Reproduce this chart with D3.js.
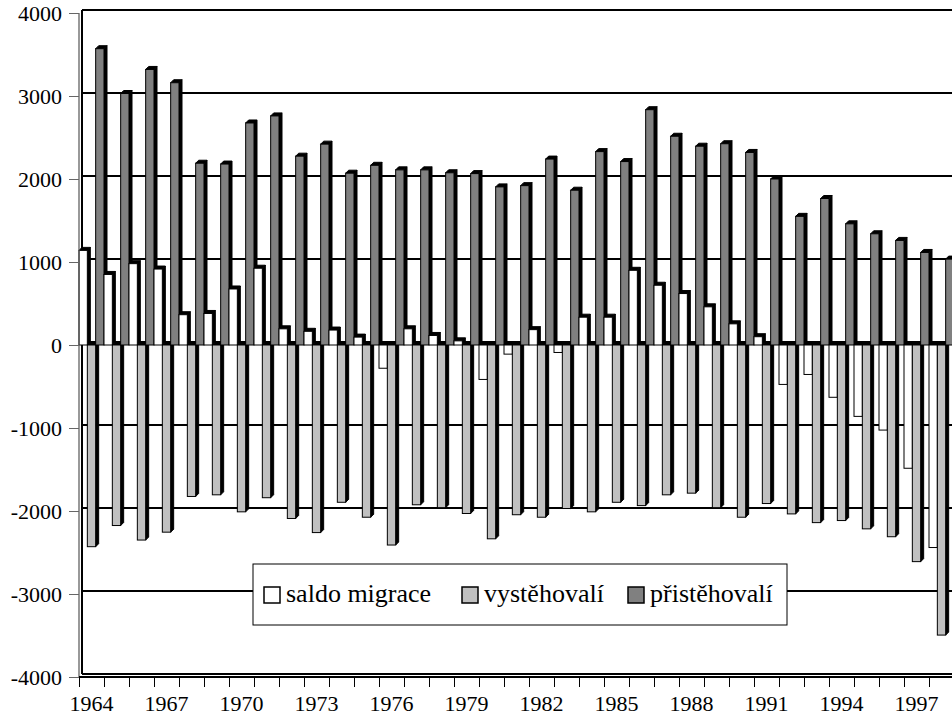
<!DOCTYPE html>
<html>
<head>
<meta charset="utf-8">
<script src="https://cdn.jsdelivr.net/npm/d3@7"></script>
<style>
  body { margin: 0; background: #fff; }
  svg { display: block; font-family: "Liberation Serif", "DejaVu Serif", serif; }
</style>
</head>
<body>
<div id="chart"></div>
<script>
const years = d3.range(1964, 1999).map(String);
const yTicks = [-4000, -3000, -2000, -1000, 0, 1000, 2000, 3000, 4000];
const labelYears = ["1964", "1967", "1970", "1973", "1976", "1979", "1982", "1985", "1988", "1991", "1994", "1997"];
const seriesNames = ["saldo migrace", "vystěhovalí", "přistěhovalí"];
const seriesColors = ["#ffffff", "#c0c0c0", "#808080"];

const saldo = [1140, 850, 980, 915, 365, 380, 675, 925, 195, 165,
  180, 95, -280, 195, 115, 50, -415, -110, 185, -90,
  335, 335, 900, 720, 620, 460, 255, 100, -475, -355,
  -630, -860, -1025, -1485, -2440];
const vystehovali = [-2430, -2175, -2350, -2255, -1825, -1805, -2010, -1840, -2090, -2260,
  -1895, -2075, -2410, -1925, -1960, -2030, -2335, -2045, -2075, -1970,
  -2010, -1895, -1935, -1805, -1785, -1960, -2075, -1910, -2035, -2140,
  -2115, -2215, -2310, -2610, -3495];
const pristehovali = [3570, 3030, 3320, 3160, 2190, 2180, 2675, 2760, 2275, 2420,
  2070, 2165, 2110, 2110, 2075, 2065, 1905, 1920, 2240, 1865,
  2330, 2210, 2835, 2515, 2395, 2425, 2320, 2000, 1550, 1765,
  1460, 1340, 1260, 1115, 1035];

(function () {
  const W = 952, H = 718;
  const plotLeft = 79, plotTop = 13, plotBottom = 677;
  const depth = 3;
  const catW = 25;

  const svg = d3.select("#chart").append("svg")
    .attr("width", W).attr("height", H);

  const x = d3.scaleBand().domain(years).range([plotLeft, plotLeft + years.length * catW]).padding(0);
  const xSub = d3.scaleBand().domain(seriesNames).range([0, x.bandwidth()]).padding(0);
  const xEdge = d3.scaleLinear().domain([0, years.length]).range([plotLeft, plotLeft + years.length * catW]);
  const y = d3.scaleLinear().domain([-4000, 4000]).range([plotBottom, plotTop]);
  const color = d3.scaleOrdinal().domain(seriesNames).range(seriesColors);

  // back wall gridlines
  svg.append("g")
    .selectAll("line")
    .data(yTicks)
    .join("line")
    .attr("x1", plotLeft + depth).attr("x2", W + 5)
    .attr("y1", d => y(d) - depth).attr("y2", d => y(d) - depth)
    .attr("stroke", "#000").attr("stroke-width", 2);

  // back wall left edge
  svg.append("line")
    .attr("x1", plotLeft + depth).attr("x2", plotLeft + depth)
    .attr("y1", y(4000) - depth).attr("y2", y(-4000) - depth)
    .attr("stroke", "#000").attr("stroke-width", 2);

  // bars
  const rows = [];
  years.forEach((yr, i) => {
    rows.push({ year: yr, series: seriesNames[0], value: saldo[i] });
    rows.push({ year: yr, series: seriesNames[1], value: vystehovali[i] });
    rows.push({ year: yr, series: seriesNames[2], value: pristehovali[i] });
  });

  const bw = xSub.bandwidth();
  svg.append("g").selectAll("g")
    .data(rows)
    .join("g")
    .each(function (d) {
      const g = d3.select(this);
      const x0 = x(d.year) + xSub(d.series);
      const x1 = x0 + bw;
      const yT = Math.min(y(d.value), y(0));
      const yB = Math.max(y(d.value), y(0));
      // side face
      g.append("path")
        .attr("d", `M${x1},${yT}L${x1 + depth},${yT - depth}L${x1 + depth},${yB - depth}L${x1},${yB}Z`)
        .attr("fill", "#000").attr("stroke", "#000").attr("stroke-width", 1);
      // top face
      g.append("path")
        .attr("d", `M${x0},${yT}L${x0 + depth},${yT - depth}L${x1 + depth},${yT - depth}L${x1},${yT}Z`)
        .attr("fill", "#000").attr("stroke", "#000").attr("stroke-width", 1);
      // front face
      g.append("rect")
        .attr("x", x0).attr("y", yT)
        .attr("width", bw).attr("height", yB - yT)
        .attr("fill", color(d.series))
        .attr("stroke", "#000").attr("stroke-width", 1);
    });

  // front axis lines
  svg.append("line")
    .attr("x1", plotLeft).attr("x2", plotLeft)
    .attr("y1", y(4000)).attr("y2", y(-4000))
    .attr("stroke", "#555").attr("stroke-width", 1.2);
  svg.append("line")
    .attr("x1", plotLeft).attr("x2", W + 5)
    .attr("y1", plotBottom).attr("y2", plotBottom)
    .attr("stroke", "#000").attr("stroke-width", 2);

  // y axis (plain hyphen for negatives, as in the source)
  const yAxis = svg.append("g")
    .attr("transform", `translate(${plotLeft},0)`)
    .call(d3.axisLeft(y).tickValues(yTicks).tickSize(10).tickPadding(7).tickFormat(d => String(d)));
  yAxis.select(".domain").remove();
  yAxis.selectAll(".tick line").attr("stroke", "#666");
  yAxis.selectAll("text")
    .style("font-size", "22px")
    .attr("fill", "#000")
    .attr("font-family", "Liberation Serif, serif");

  // x axis tick marks at category edges
  const xTickAxis = svg.append("g")
    .attr("transform", `translate(0,${plotBottom})`)
    .call(d3.axisBottom(xEdge).tickValues(d3.range(0, years.length + 1)).tickSize(10).tickFormat(""));
  xTickAxis.select(".domain").remove();
  xTickAxis.selectAll(".tick line").attr("stroke", "#000");

  // x axis labels
  const xAxis = svg.append("g")
    .attr("transform", `translate(0,${plotBottom})`)
    .call(d3.axisBottom(x).tickValues(labelYears).tickSize(0).tickPadding(18));
  xAxis.select(".domain").remove();
  xAxis.selectAll("text")
    .style("font-size", "22px")
    .attr("fill", "#000")
    .attr("font-family", "Liberation Serif, serif");

  // legend
  const legend = svg.append("g").attr("transform", "translate(253,564)");
  legend.append("rect")
    .attr("width", 534).attr("height", 61)
    .attr("fill", "#fff").attr("stroke", "#000").attr("stroke-width", 1);

  const legendX = [11, 209, 375];
  seriesNames.forEach((name, i) => {
    const item = legend.append("g").attr("transform", `translate(${legendX[i]},23)`);
    item.append("rect")
      .attr("width", 16).attr("height", 16)
      .attr("fill", color(name))
      .attr("stroke", "#000").attr("stroke-width", 1.5);
    item.append("text")
      .attr("x", 22).attr("y", 15)
      .style("font-size", "26px")
      .text(name);
  });
})();
</script>
</body>
</html>
